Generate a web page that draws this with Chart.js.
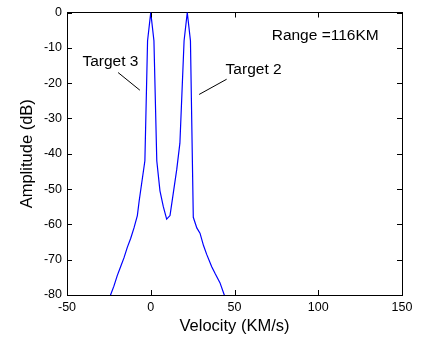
<!DOCTYPE html>
<html>
<head>
<meta charset="utf-8">
<script src="https://cdn.jsdelivr.net/npm/chart.js@4/dist/chart.umd.min.js"></script>
<style>
  html, body { margin: 0; padding: 0; background: #fff; }
  canvas { display: block; }
</style>
</head>
<body>
<canvas id="ampChart" width="422" height="338"></canvas>
<script>
// velocity samples (KM/s) and amplitude (dB)
const velocity = [-26, -24, -22, -20, -18, -16, -14, -12, -10, -8, -6.9, -3.5, -1.9, 0, 1.9, 3.6,
    5.5, 7.5, 9.5, 11.5, 13.5, 15.5, 17.4, 19.9, 21.8, 23.7, 25.4, 27.5, 29.4, 31.5, 33.4,
    36.4, 38.5, 41.3, 43.9, 45.5];
const amplitude = [-86, -80, -77.5, -74.5, -72, -69.5, -66.5, -64, -61, -57.5, -53.3, -42, -8, 0, -8, -42,
    -50.5, -55, -58.5, -57.5, -51, -44.5, -37, -8, 0, -8, -58, -61, -62.5, -66, -68.5,
    -72, -74, -76.5, -80, -83];

const xTicks = [-50, 0, 50, 100, 150];
const yTicks = [0, -10, -20, -30, -40, -50, -60, -70, -80];

// annotation text / pointer lines, in data units
const labels = [
    { text: 'Target 3', x: -40.8, y: -13.8 },
    { text: 'Target 2', x: 44.7, y: -16.2 },
    { text: 'Range =116KM', x: 72.2, y: -6.5 }
];
const pointers = [
    [[-19.5, -17.0], [-6.5, -22.0]],
    [[45.3, -18.9], [28.9, -23.2]]
];

const FONT = 'Liberation Sans, Arial, Helvetica, sans-serif';

// matlab style: ticks point into the box on all four sides
const innerTicks = {
    id: 'innerTicks',
    afterDraw(chart) {
        const ctx = chart.ctx;
        const { left, right, top, bottom } = chart.chartArea;
        const xs = chart.scales.x, ys = chart.scales.y;
        const len = 5;
        ctx.save();
        ctx.strokeStyle = '#000';
        ctx.lineWidth = 1;
        ctx.beginPath();
        xTicks.forEach(v => {
            const px = Math.round(xs.getPixelForValue(v)) + 0.5;
            ctx.moveTo(px, bottom); ctx.lineTo(px, bottom - len);
            ctx.moveTo(px, top); ctx.lineTo(px, top + len);
        });
        yTicks.forEach(v => {
            const py = Math.round(ys.getPixelForValue(v)) + 0.5;
            ctx.moveTo(left, py); ctx.lineTo(left + len, py);
            ctx.moveTo(right, py); ctx.lineTo(right - len, py);
        });
        ctx.stroke();

        // annotations
        ctx.beginPath();
        pointers.forEach(p => {
            ctx.moveTo(xs.getPixelForValue(p[0][0]), ys.getPixelForValue(p[0][1]));
            ctx.lineTo(xs.getPixelForValue(p[1][0]), ys.getPixelForValue(p[1][1]));
        });
        ctx.stroke();
        ctx.fillStyle = '#000';
        ctx.font = '15.5px ' + FONT;
        ctx.textAlign = 'left';
        ctx.textBaseline = 'middle';
        labels.forEach(l => {
            ctx.fillText(l.text, xs.getPixelForValue(l.x), ys.getPixelForValue(l.y));
        });
        ctx.restore();
    }
};

const ctx = document.getElementById('ampChart').getContext('2d');

new Chart(ctx, {
    type: 'line',
    data: {
        datasets: [{
            data: velocity.map((v, i) => ({ x: v, y: amplitude[i] })),
            borderColor: '#0000ff',
            borderWidth: 1.2,
            pointRadius: 0,
            tension: 0,
            fill: false
        }]
    },
    options: {
        responsive: false,
        animation: false,
        events: [],
        layout: { padding: 0 },
        plugins: {
            legend: { display: false },
            tooltip: { enabled: false }
        },
        scales: {
            x: {
                type: 'linear',
                position: 'bottom',
                min: -50, max: 150,
                afterFit: s => { s.height = 43; },
                afterBuildTicks: s => { s.ticks = xTicks.map(v => ({ value: v })); },
                grid: { display: true, drawOnChartArea: false, drawTicks: false },
                border: { display: true, color: '#000', width: 1 },
                ticks: { color: '#000', padding: 5, maxRotation: 0, font: { family: FONT, size: 12.5 } },
                title: {
                    display: true, text: 'Velocity (KM/s)', color: '#000',
                    font: { family: FONT, size: 16.5 }, padding: { top: 0, bottom: 2 }
                }
            },
            xTop: {
                type: 'linear',
                position: 'top',
                min: -50, max: 150,
                afterFit: s => { s.height = 10; },
                grid: { display: true, drawOnChartArea: false, drawTicks: false },
                border: { display: true, color: '#000', width: 1 },
                ticks: { display: false }
            },
            y: {
                type: 'linear',
                position: 'left',
                min: -80, max: 0,
                afterFit: s => { s.width = 67; },
                afterBuildTicks: s => { s.ticks = yTicks.map(v => ({ value: v })); },
                grid: { display: true, drawOnChartArea: false, drawTicks: false },
                border: { display: true, color: '#000', width: 1 },
                ticks: { color: '#000', padding: 5, font: { family: FONT, size: 12.5 } },
                title: {
                    display: true, text: 'Amplitude (dB)', color: '#000',
                    font: { family: FONT, size: 16.5 }, padding: { top: 18, bottom: 0 }
                }
            },
            yRight: {
                type: 'linear',
                position: 'right',
                min: -80, max: 0,
                afterFit: s => { s.width = 20; },
                grid: { display: true, drawOnChartArea: false, drawTicks: false },
                border: { display: true, color: '#000', width: 1 },
                ticks: { display: false }
            }
        }
    },
    plugins: [innerTicks]
});
</script>
</body>
</html>
